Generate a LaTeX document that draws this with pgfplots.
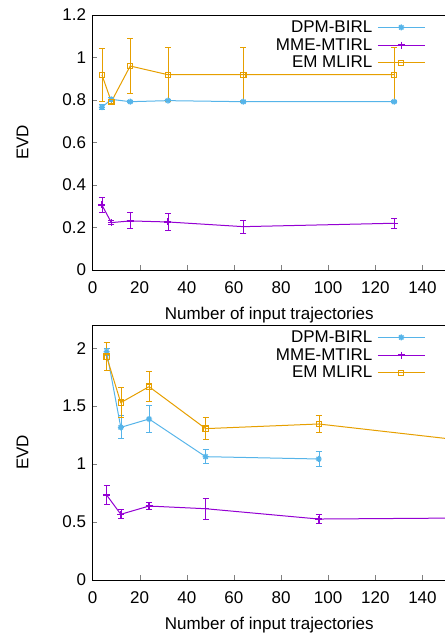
\documentclass[border=0pt]{standalone}
\usepackage{fontspec}
\setmainfont{Liberation Sans}
\usepackage{pgfplots}
\pgfplotsset{compat=1.18}

\definecolor{gpblue}{RGB}{86,180,233}
\definecolor{gppurple}{RGB}{148,0,211}
\definecolor{gporange}{RGB}{230,159,0}

% gnuplot-style asterisk: plus and cross together
\pgfdeclareplotmark{gpstar}{%
  \pgfpathmoveto{\pgfqpoint{-\pgfplotmarksize}{0pt}}\pgfpathlineto{\pgfqpoint{\pgfplotmarksize}{0pt}}%
  \pgfpathmoveto{\pgfqpoint{0pt}{-\pgfplotmarksize}}\pgfpathlineto{\pgfqpoint{0pt}{\pgfplotmarksize}}%
  \pgfpathmoveto{\pgfqpoint{-.7071\pgfplotmarksize}{-.7071\pgfplotmarksize}}\pgfpathlineto{\pgfqpoint{.7071\pgfplotmarksize}{.7071\pgfplotmarksize}}%
  \pgfpathmoveto{\pgfqpoint{-.7071\pgfplotmarksize}{.7071\pgfplotmarksize}}\pgfpathlineto{\pgfqpoint{.7071\pgfplotmarksize}{-.7071\pgfplotmarksize}}%
  \pgfusepathqstroke}

\pgfplotsset{
  evd/.style={
    scale only axis, width=353.5pt, height=255pt,
    xmin=0, xmax=150, xtick={0,20,...,140},
    axis line style={line width=1pt},
    tick align=inside, major tick length=5pt,
    xtick pos=left, ytick pos=left,
    /pgf/number format/assume math mode=true,
    tick label style={font=\fontsize{17}{20}\selectfont},
    xticklabel style={yshift=-8pt},
    yticklabel style={xshift=-3pt},
    label style={font=\fontsize{17}{20}\selectfont},
    xlabel={Number of input trajectories}, ylabel={EVD},
    xlabel style={at={(axis description cs:0.5,-0.176)}, anchor=center},
    ylabel style={at={(axis description cs:-0.198,0.5)}, anchor=center, rotate=0},
    legend cell align=right, legend plot pos=right,
    legend style={at={(0.942,0.982)}, anchor=north east, draw=none, fill=none,
      inner sep=0pt, row sep=2.5pt, font=\fontsize{17}{20}\selectfont,
      nodes={inner sep=1pt}, /tikz/column sep=4pt},
    legend image code/.code={%
      \draw[mark repeat=2,mark phase=2] plot coordinates {(0pt,0pt) (23.5pt,0pt) (47pt,0pt)};},
    every axis plot/.append style={line width=1pt},
    error bars/y dir=both, error bars/y explicit,
    error bars/error mark options={rotate=90, mark size=3pt, line width=1pt},
  },
  s1/.style={gpblue, mark=gpstar, mark size=3pt, mark options={solid, line width=1.3pt}},
  s2/.style={gppurple, mark=+, mark size=3.5pt, mark options={line width=1.3pt}},
  s3/.style={gporange, mark=square, mark size=2.6pt, mark options={line width=1.2pt}},
}

\begin{document}
\begin{tikzpicture}
\begin{axis}[evd, at={(0pt,0pt)}, anchor=south west, ymin=0, ymax=1.2, ytick={0,0.2,...,1.2}]
\addplot[s1] coordinates {
  (4,0.766) +- (0,0.012)
  (8,0.803) +- (0,0.008)
  (16,0.792) +- (0,0.006)
  (32,0.797) +- (0,0.006)
  (64,0.792) +- (0,0.006)
  (128,0.792) +- (0,0.006)
};
\addlegendentry{DPM-BIRL}
\addplot[s2] coordinates {
  (4,0.306) +- (0,0.035)
  (8,0.223) +- (0,0.010)
  (16,0.231) +- (0,0.038)
  (32,0.226) +- (0,0.040)
  (64,0.204) +- (0,0.031)
  (128,0.220) +- (0,0.023)
};
\addlegendentry{MME-MTIRL}
\addplot[s3] coordinates {
  (4,0.918) +- (0,0.125)
  (8,0.792) +- (0,0.010)
  (16,0.960) +- (0,0.130)
  (32,0.919) +- (0,0.127)
  (64,0.919) +- (0,0.127)
  (128,0.919) +- (0,0.127)
};
\addlegendentry{EM MLIRL}
\end{axis}

\begin{axis}[evd, at={(0pt,-310pt)}, anchor=south west, ymin=0, ymax=2.2, ytick={0,0.5,...,2}]
\addplot[s1] coordinates {
  (6,1.970) +- (0,0.030)
  (12,1.317) +- (0,0.100)
  (24,1.389) +- (0,0.115)
  (48,1.064) +- (0,0.063)
  (96,1.044) +- (0,0.063)
};
\addlegendentry{DPM-BIRL}
\addplot[s2] coordinates {
  (6,0.733) +- (0,0.083)
  (12,0.567) +- (0,0.037)
  (24,0.638) +- (0,0.029)
  (48,0.615) +- (0,0.089)
  (96,0.526) +- (0,0.042)
  (192,0.540) +- (0,0.030)
};
\addlegendentry{MME-MTIRL}
\addplot[s3] coordinates {
  (6,1.927) +- (0,0.122)
  (12,1.530) +- (0,0.130)
  (24,1.668) +- (0,0.132)
  (48,1.306) +- (0,0.098)
  (96,1.346) +- (0,0.075)
  (192,1.124) +- (0,0.080)
};
\addlegendentry{EM MLIRL}
\end{axis}
\pgfresetboundingbox
\path[use as bounding box] (-92.5pt,-363pt) rectangle (352.5pt,270pt);
\end{tikzpicture}
\end{document}
